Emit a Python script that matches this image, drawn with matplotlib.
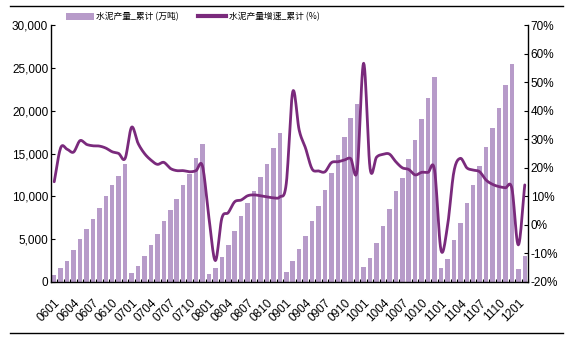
import numpy as np
import matplotlib
matplotlib.use("Agg")
import matplotlib.pyplot as plt
from matplotlib.lines import Line2D
from matplotlib.patches import Patch
from matplotlib import font_manager as fm

# ---------------- data ----------------
months = [f"{y:02d}{m:02d}" for y in range(6, 12) for m in range(1, 13)] + ["1201", "1202"]

output_cum = [816, 1632, 2449, 3731, 5013, 6180, 7345, 8628, 10027, 11309, 12359, 13758,
              1049, 1865, 3031, 4314, 5597, 7112, 8395, 9677, 11309, 12592, 14457, 16090,
              933, 1632, 2915, 4314, 5946, 7695, 9211, 10610, 12242, 13758, 15623, 17372,
              1166, 2449, 3848, 5363, 7112, 8861, 10727, 12708, 14807, 16906, 19121, 20753,
              1749, 2798, 4547, 6529, 8511, 10610, 12125, 14341, 16556, 19004, 21453, 23901,
              1632, 2682, 4897, 6879, 9211, 11309, 13525, 15740, 17955, 20287, 22969, 25417,
              1516, 3031]

growth_cum = [15.1, 27.0, 26.5, 25.5, 29.5, 28.2, 27.7, 27.6, 26.9, 25.6, 25.0, 23.3,
              34.2, 28.6, 25.0, 22.7, 21.2, 21.9, 19.8, 19.0, 19.0, 18.6, 19.0, 20.6,
              2.5, -12.5, 2.3, 4.3, 8.1, 8.7, 10.2, 10.5, 10.2, 9.8, 9.5, 9.8,
              14.5, 46.6, 33.2, 26.8, 19.6, 18.9, 18.6, 21.8, 22.1, 22.7, 23.2, 19.2,
              56.6, 19.8, 23.7, 24.7, 24.8, 22.1, 20.0, 19.4, 17.5, 18.4, 18.4, 19.2,
              -8.8, -0.6, 18.6, 23.3, 20.0, 19.2, 18.6, 15.7, 14.2, 13.4, 13.0, 12.8,
              -7.0, 14.0]

tick_labels = months[::3]

label_bar = "水泥产量_累计 (万吨)"
label_line = "水泥产量增速_累计 (%)"

# ---------------- style ----------------
installed = {f.name for f in fm.fontManager.ttflist}
num_font = "Liberation Sans Narrow" if "Liberation Sans Narrow" in installed else "Liberation Sans"
cjk_font = ["Noto Sans CJK SC", "DejaVu Sans"]

bar_color = "#b79bc9"
line_color = "#7a2a7c"

fig = plt.figure(figsize=(5.70, 3.38), dpi=100)
ax = fig.add_axes([51 / 570, 1 - 282 / 338, (528 - 51) / 570, (282 - 25) / 338])

x = np.arange(len(months))
bars = ax.bar(x, output_cum, width=0.7, color=bar_color, zorder=2)
ax.set_xlim(-0.5, len(months) - 0.5)
ax.set_ylim(0, 30000)
ax.set_yticks(np.arange(0, 30001, 5000))
ax.set_yticklabels([f"{v:,}" for v in range(0, 30001, 5000)], fontfamily=num_font, fontsize=8.5)
ax.set_xticks(x[::3])
ax.set_xticklabels(tick_labels, rotation=45, ha="right", va="top", rotation_mode="anchor",
                   fontfamily=num_font, fontsize=8.5)
ax.set_xticks(np.arange(-0.5, len(months), 1), minor=True)
ax.tick_params(axis="x", which="major", length=0, pad=11)
ax.tick_params(axis="x", which="minor", length=2.5, direction="in", width=0.8)
ax.tick_params(axis="y", length=3, direction="in", width=0.8, pad=2)
for s in ["top", "right"]:
    ax.spines[s].set_visible(False)
for s in ["left", "bottom"]:
    ax.spines[s].set_linewidth(1.0)

# smooth line (Catmull-Rom through the data points)
def catmull_rom(xs, ys, n=12):
    xs = np.asarray(xs, float); ys = np.asarray(ys, float)
    px = np.concatenate([[2 * xs[0] - xs[1]], xs, [2 * xs[-1] - xs[-2]]])
    py = np.concatenate([[2 * ys[0] - ys[1]], ys, [2 * ys[-1] - ys[-2]]])
    outx, outy = [], []
    for i in range(1, len(px) - 2):
        t = np.linspace(0, 1, n, endpoint=False)
        for arr, out in ((px, outx), (py, outy)):
            p0, p1, p2, p3 = arr[i - 1], arr[i], arr[i + 1], arr[i + 2]
            out.extend(0.5 * ((2 * p1) + (-p0 + p2) * t + (2 * p0 - 5 * p1 + 4 * p2 - p3) * t ** 2
                              + (-p0 + 3 * p1 - 3 * p2 + p3) * t ** 3))
    outx.append(xs[-1]); outy.append(ys[-1])
    return np.array(outx), np.array(outy)

ax2 = ax.twinx()
sx, sy = catmull_rom(x, growth_cum)
ax2.plot(sx, sy, color=line_color, lw=2.0, solid_capstyle="round", zorder=3)
ax2.set_ylim(-20, 70)
ax2.set_yticks(np.arange(-20, 71, 10))
ax2.set_yticklabels([f"{v}%" for v in range(-20, 71, 10)], fontfamily=num_font, fontsize=8.5)
ax2.tick_params(axis="y", length=3, direction="in", width=0.8, pad=2)
ax2.spines["top"].set_visible(False)
ax2.spines["left"].set_visible(False)
ax2.spines["bottom"].set_visible(False)
ax2.spines["right"].set_linewidth(1.0)

# legend
handles = [Patch(facecolor=bar_color, edgecolor="none"),
           Line2D([0], [0], color=line_color, lw=3)]
leg = fig.legend(handles, [label_bar, label_line], ncol=2, loc="upper left",
                 bbox_to_anchor=(62 / 570, 1 - 9 / 338), frameon=False,
                 prop={"family": cjk_font, "size": 6.3}, handlelength=3.2, handleheight=0.9,
                 handletextpad=0.3, columnspacing=2.2, borderaxespad=0)

# decorative rules
fig.add_artist(Line2D([10 / 570, 563 / 570], [1 - 6 / 338, 1 - 6 / 338], color="black", lw=1.0))
fig.add_artist(Line2D([10 / 570, 563 / 570], [1 - 333 / 338, 1 - 333 / 338], color="black", lw=1.0))

fig.savefig("out.png", dpi=100)
